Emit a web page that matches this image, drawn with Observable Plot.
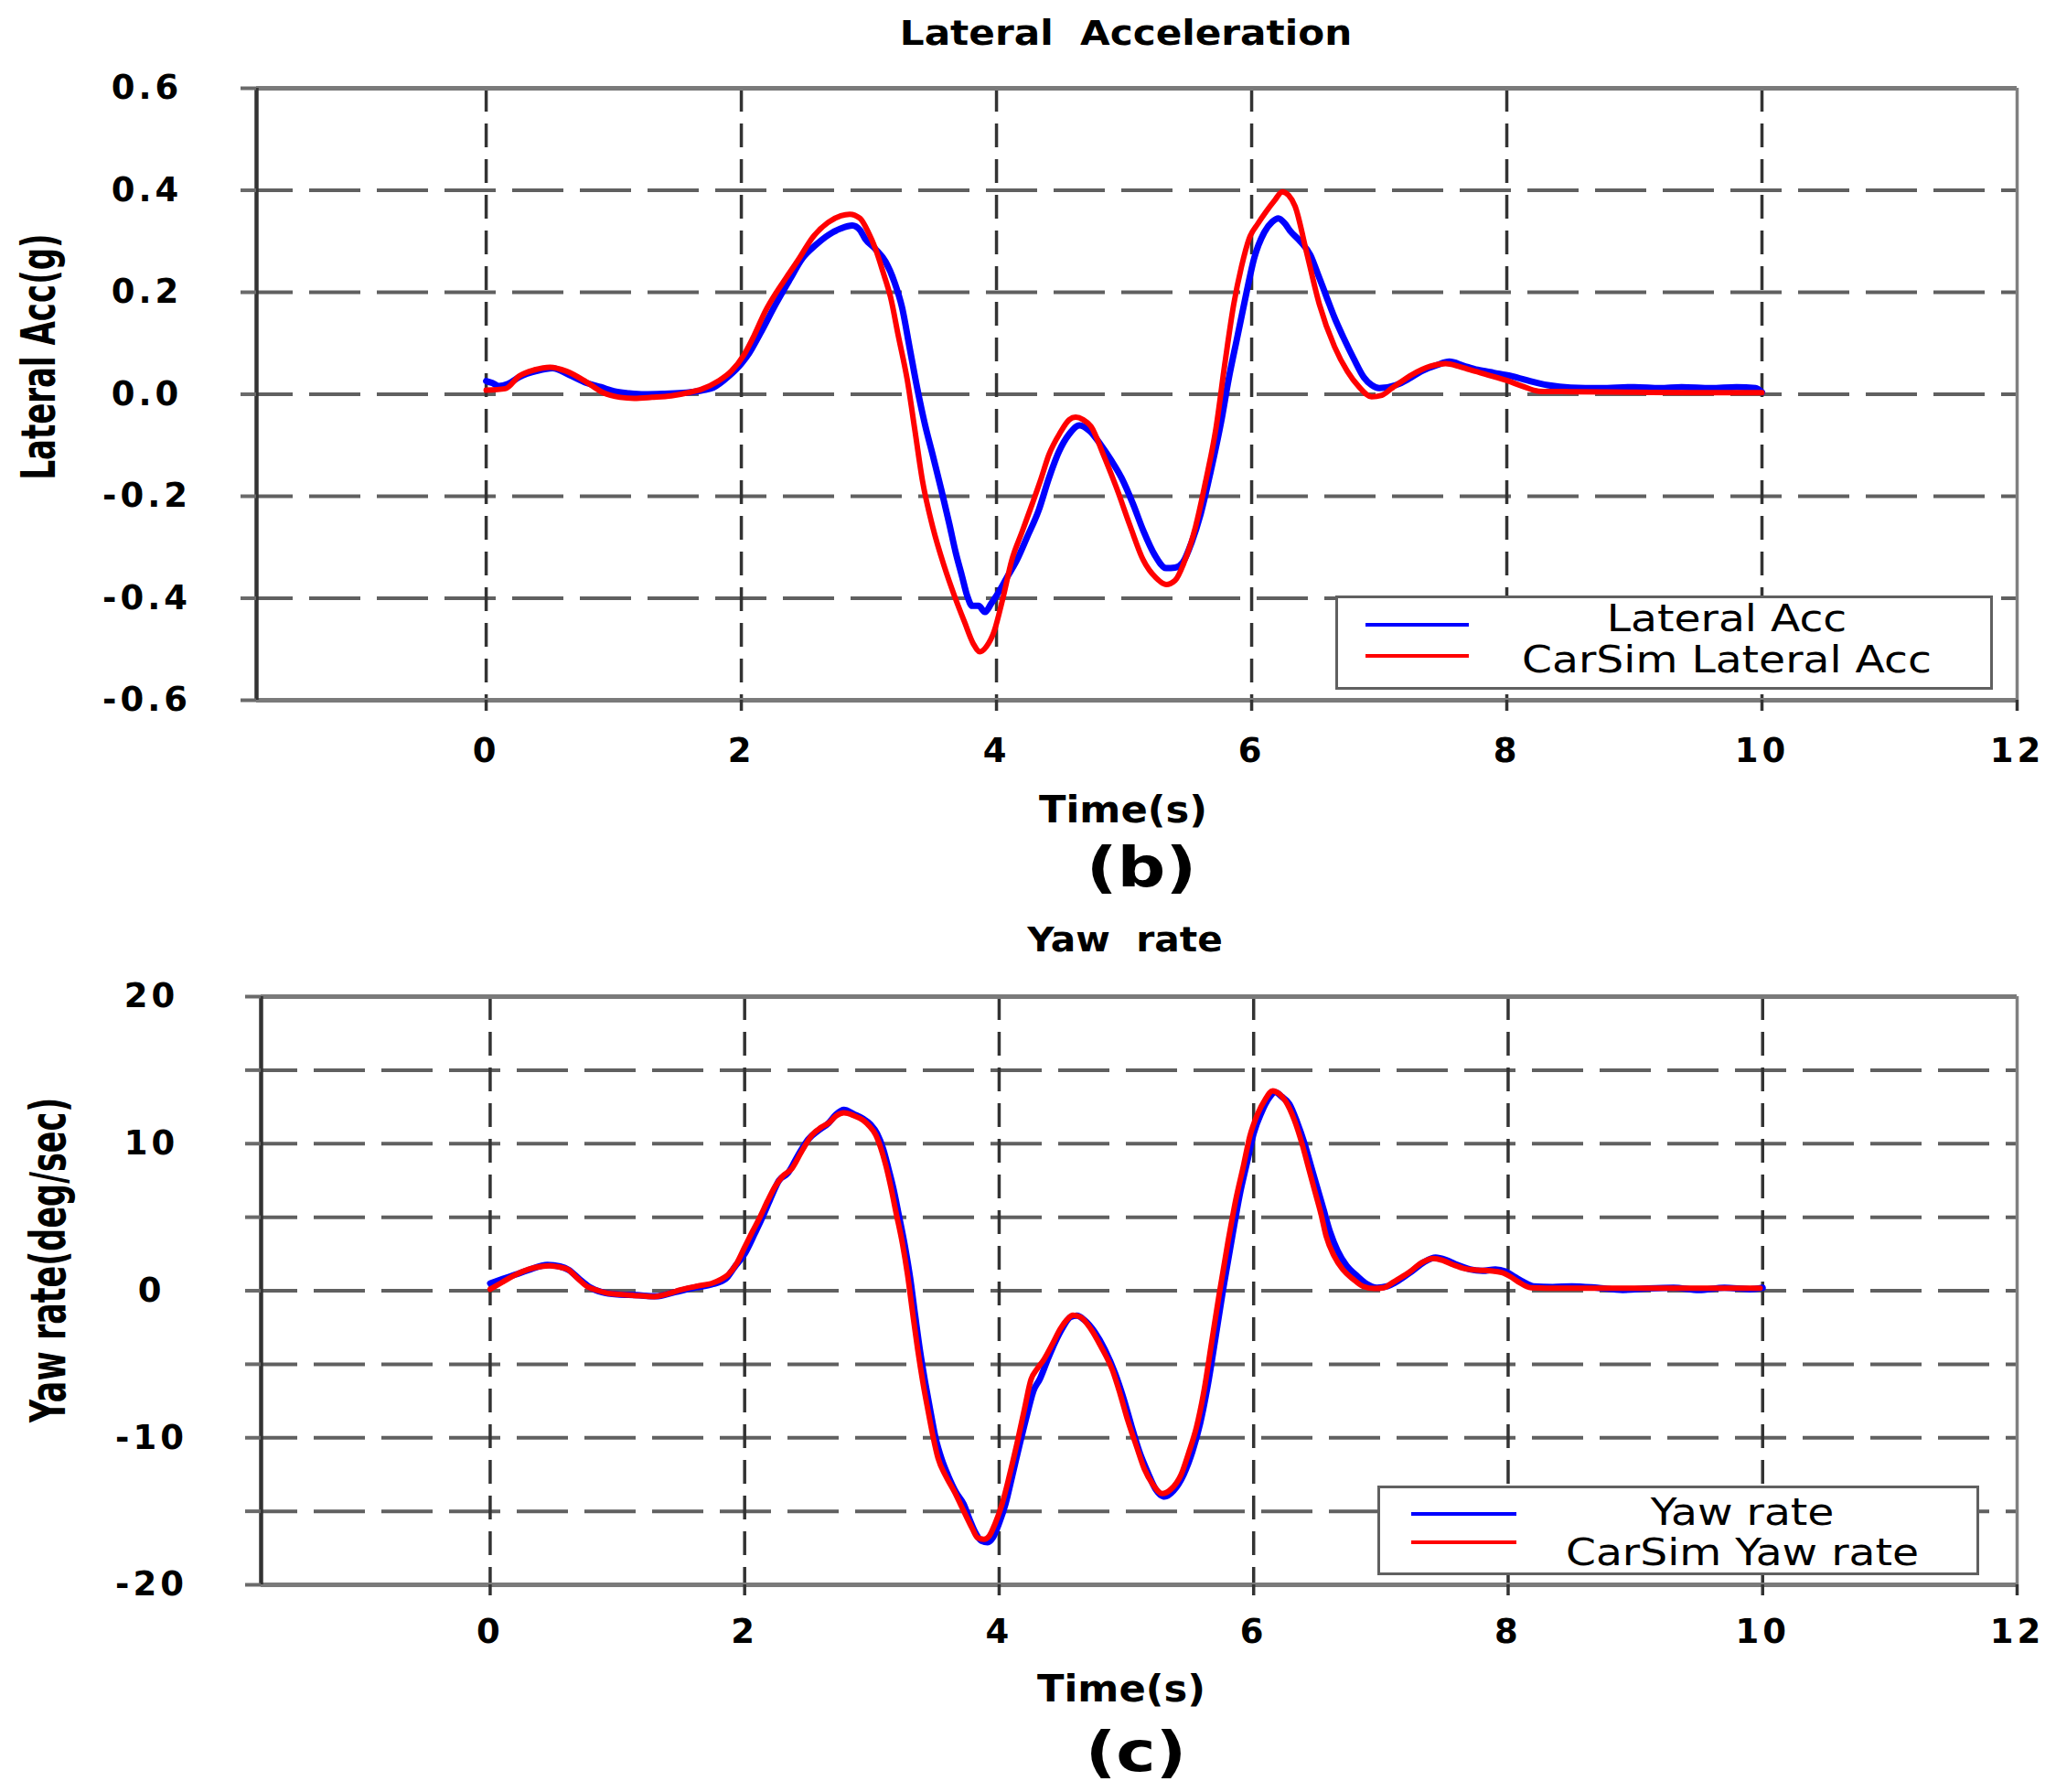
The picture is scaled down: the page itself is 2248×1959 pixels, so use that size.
<!DOCTYPE html>
<html>
<head>
<meta charset="utf-8">
<script src="https://cdn.jsdelivr.net/npm/d3@7"></script>
<script src="https://cdn.jsdelivr.net/npm/@observablehq/plot@0.6"></script>
<style>
  html, body { margin: 0; padding: 0; background: #fff; }
  #page { position: relative; width: 2248px; height: 1959px; overflow: hidden; font-family: "DejaVu Sans", sans-serif; }
  .panel { position: absolute; left: 0; }
  .panel svg text { letter-spacing: 4px; }
  .txt { position: absolute; white-space: pre; text-align: center; color: #000; }
  .legend { position: absolute; background: #fff; border: 3px solid #606060; box-sizing: border-box; z-index: 5; }
  .sample { position: absolute; height: 4px; z-index: 6; }
</style>
</head>
<body>
<div id="page"></div>
<script>
// ---------- shared axes ----------
const xDomain = [-1.8, 12];
const xTicks = [0, 2, 4, 6, 8, 10, 12];
const xGrid = [0, 2, 4, 6, 8, 10];

// ---------- (b) Lateral acceleration ----------
const latYDomain = [-0.6, 0.6];
const latYTicks = [-0.6, -0.4, -0.2, 0, 0.2, 0.4, 0.6];
const latYTickLabels = ["-0.6", "-0.4", "-0.2", "0.0", "0.2", "0.4", "0.6"];
const latYGrid = [-0.4, -0.2, 0, 0.2, 0.4];

// measured "Lateral Acc" (blue)
const latAccT = [0,0.05,0.1,0.17,0.26,0.4,0.52,0.65,0.79,0.9,1.0,1.12,1.24,1.4,1.57,1.7,1.78,1.9,2.0,2.06,2.15,2.27,2.38,2.48,2.58,2.68,2.78,2.87,2.93,2.97,3.05,3.13,3.2,3.26,3.32,3.38,3.44,3.5,3.57,3.63,3.68,3.73,3.77,3.81,3.86,3.91,3.96,4.0,4.08,4.16,4.24,4.33,4.41,4.49,4.57,4.65,4.73,4.82,4.9,4.98,5.07,5.15,5.24,5.33,5.4,5.46,5.53,5.6,5.68,5.76,5.82,5.89,5.96,6.02,6.1,6.16,6.21,6.26,6.3,6.38,6.46,6.52,6.59,6.65,6.72,6.8,6.88,6.94,7.0,7.13,7.23,7.33,7.45,7.55,7.66,7.77,7.9,8.03,8.15,8.32,8.5,8.73,9.0,9.2,9.37,9.6,9.8,9.95,10.0];
const latAccV = [0.026,0.022,0.016,0.02,0.034,0.046,0.051,0.038,0.022,0.014,0.006,0.002,0.0,0.001,0.003,0.008,0.013,0.035,0.06,0.08,0.12,0.177,0.225,0.267,0.292,0.312,0.325,0.331,0.322,0.305,0.285,0.26,0.22,0.17,0.09,0.01,-0.06,-0.119,-0.19,-0.254,-0.31,-0.357,-0.395,-0.415,-0.415,-0.427,-0.41,-0.395,-0.36,-0.325,-0.28,-0.228,-0.165,-0.112,-0.078,-0.061,-0.072,-0.1,-0.13,-0.164,-0.215,-0.267,-0.315,-0.341,-0.34,-0.33,-0.29,-0.235,-0.15,-0.055,0.03,0.115,0.2,0.267,0.318,0.338,0.345,0.335,0.321,0.3,0.273,0.235,0.189,0.15,0.111,0.07,0.033,0.018,0.012,0.018,0.03,0.045,0.057,0.064,0.056,0.048,0.042,0.036,0.028,0.018,0.013,0.012,0.014,0.012,0.014,0.012,0.014,0.012,0.004];

// "CarSim Lateral Acc" (red)
const carsimLatT = [0,0.15,0.26,0.38,0.5,0.63,0.78,0.91,1.05,1.16,1.3,1.45,1.6,1.69,1.82,1.92,2.02,2.1,2.19,2.27,2.35,2.45,2.56,2.68,2.78,2.85,2.93,3.0,3.05,3.11,3.17,3.23,3.3,3.36,3.42,3.5,3.59,3.67,3.75,3.82,3.87,3.92,3.98,4.05,4.12,4.2,4.28,4.35,4.41,4.5,4.57,4.62,4.68,4.74,4.84,4.94,5.05,5.15,5.25,5.33,5.4,5.47,5.56,5.64,5.72,5.79,5.86,5.92,5.98,6.05,6.11,6.18,6.24,6.29,6.34,6.43,6.53,6.65,6.75,6.84,6.94,7.02,7.1,7.26,7.4,7.52,7.62,7.71,7.85,8.0,8.12,8.25,8.5,9.0,9.5,10.0];
const carsimLatV = [0.008,0.011,0.036,0.048,0.053,0.045,0.025,0.004,-0.006,-0.008,-0.006,-0.003,0.004,0.01,0.026,0.045,0.077,0.115,0.164,0.198,0.228,0.265,0.308,0.337,0.35,0.353,0.345,0.315,0.286,0.24,0.19,0.115,0.029,-0.07,-0.17,-0.26,-0.337,-0.395,-0.447,-0.49,-0.505,-0.495,-0.466,-0.4,-0.325,-0.27,-0.215,-0.165,-0.119,-0.075,-0.05,-0.045,-0.05,-0.063,-0.12,-0.183,-0.26,-0.325,-0.36,-0.373,-0.365,-0.33,-0.26,-0.17,-0.067,0.06,0.177,0.25,0.305,0.335,0.357,0.38,0.397,0.39,0.369,0.279,0.177,0.093,0.045,0.015,-0.005,-0.002,0.012,0.039,0.055,0.06,0.055,0.048,0.038,0.027,0.016,0.006,0.005,0.004,0.003,0.003];

// ---------- (c) Yaw rate ----------
const yawYDomain = [-20, 20];
const yawYTicks = [-20, -10, 0, 10, 20];
const yawYTickLabels = ["-20", "-10", "0", "10", "20"];
const yawYMinor = [-20, -15, -10, -5, 0, 5, 10, 15, 20];
const yawYGrid = [-15, -10, -5, 0, 5, 10, 15];

// measured "Yaw rate" (blue)
const yawT = [0,0.1,0.2,0.3,0.45,0.55,0.62,0.7,0.78,0.88,1.0,1.15,1.3,1.45,1.6,1.75,1.85,1.92,2.0,2.08,2.14,2.2,2.27,2.34,2.42,2.5,2.58,2.66,2.72,2.78,2.86,2.93,2.99,3.04,3.09,3.13,3.17,3.21,3.26,3.3,3.34,3.38,3.42,3.46,3.5,3.55,3.6,3.66,3.72,3.77,3.81,3.86,3.91,3.95,4.0,4.05,4.1,4.16,4.22,4.27,4.32,4.38,4.44,4.5,4.56,4.61,4.67,4.75,4.83,4.91,4.98,5.04,5.1,5.17,5.23,5.3,5.37,5.45,5.52,5.58,5.64,5.7,5.76,5.83,5.89,5.95,6.0,6.06,6.12,6.17,6.22,6.28,6.34,6.4,6.45,6.5,6.55,6.6,6.66,6.73,6.8,6.88,6.97,7.05,7.14,7.24,7.34,7.43,7.51,7.6,7.7,7.8,7.9,7.98,8.05,8.12,8.2,8.35,8.5,8.7,8.9,9.1,9.3,9.5,9.7,9.9,10.0];
const yawV = [0.5,0.8,1.1,1.4,1.75,1.65,1.4,0.8,0.25,-0.1,-0.25,-0.3,-0.38,-0.1,0.2,0.45,0.8,1.6,2.5,3.9,5.0,6.2,7.5,8.0,9.2,10.3,10.9,11.4,12.0,12.3,12.0,11.7,11.3,10.7,9.6,8.3,6.9,5.2,3.0,0.9,-1.7,-4.2,-6.3,-8.2,-10.0,-11.5,-12.6,-13.7,-14.5,-15.6,-16.4,-17.0,-17.1,-16.8,-15.8,-14.5,-12.7,-10.5,-8.4,-6.8,-6.0,-4.7,-3.5,-2.5,-1.8,-1.7,-2.0,-2.8,-4.0,-5.6,-7.4,-9.2,-10.9,-12.4,-13.5,-14.0,-13.6,-12.5,-10.9,-9.0,-6.4,-3.2,0.1,3.6,6.5,8.8,10.7,12.1,13.1,13.5,13.2,12.7,11.5,10.0,8.5,7.0,5.5,4.0,2.7,1.7,1.1,0.5,0.2,0.3,0.7,1.3,1.95,2.25,2.1,1.75,1.45,1.35,1.45,1.3,0.95,0.6,0.3,0.25,0.3,0.2,0.05,0.15,0.2,0.05,0.2,0.1,0.2];

// "CarSim Yaw rate" (red)
const carsimYawT = [0,0.1,0.18,0.3,0.4,0.47,0.55,0.61,0.68,0.76,0.85,0.92,1.02,1.13,1.29,1.4,1.5,1.62,1.75,1.82,1.87,1.94,2.0,2.06,2.12,2.18,2.24,2.3,2.37,2.45,2.53,2.6,2.66,2.72,2.78,2.86,2.93,2.98,3.03,3.07,3.11,3.15,3.19,3.24,3.28,3.32,3.36,3.4,3.44,3.48,3.52,3.58,3.65,3.7,3.75,3.79,3.83,3.88,3.92,3.97,4.02,4.08,4.14,4.2,4.25,4.3,4.35,4.42,4.48,4.53,4.58,4.64,4.72,4.8,4.89,4.95,5.01,5.08,5.14,5.21,5.28,5.35,5.43,5.49,5.55,5.61,5.67,5.73,5.8,5.86,5.92,5.97,6.03,6.09,6.15,6.2,6.25,6.32,6.38,6.43,6.48,6.53,6.57,6.63,6.7,6.78,6.86,6.95,7.02,7.1,7.22,7.32,7.41,7.49,7.57,7.66,7.76,7.86,7.95,8.02,8.08,8.18,8.3,8.73,9.5,9.98];
const carsimYawV = [0.1,0.6,1.0,1.45,1.65,1.7,1.6,1.45,0.9,0.3,0.0,-0.16,-0.25,-0.32,-0.4,-0.2,0.07,0.3,0.53,0.8,1.1,1.9,2.96,4.0,5.0,6.1,7.1,7.8,8.3,9.5,10.6,11.1,11.4,11.9,12.1,11.9,11.6,11.2,10.6,9.7,8.5,7.0,5.3,3.2,1.1,-1.5,-4.0,-6.2,-8.1,-9.9,-11.4,-12.6,-13.7,-14.6,-15.5,-16.2,-16.8,-16.9,-16.7,-15.8,-14.6,-12.6,-10.4,-8.0,-6.05,-5.3,-4.7,-3.6,-2.6,-2.0,-1.66,-1.8,-2.6,-3.8,-5.4,-7.0,-8.8,-10.6,-12.1,-13.2,-13.8,-13.5,-12.5,-11.0,-9.3,-6.8,-3.5,-0.2,3.4,6.2,8.5,10.5,12.0,13.0,13.6,13.4,12.9,11.6,10.0,8.4,6.8,5.2,3.7,2.4,1.45,0.8,0.3,0.15,0.2,0.6,1.24,1.9,2.2,2.05,1.76,1.5,1.4,1.35,1.24,0.95,0.6,0.2,0.17,0.17,0.17,0.17];

// ---------- text ----------
const titles = ["Lateral  Acceleration", "Yaw  rate"];
const yLabels = ["Lateral Acc(g)", "Yaw rate(deg/sec)"];
const xLabel = "Time(s)";
const panelTags = ["(b)", "(c)"];
const legendNames = [["Lateral Acc", "CarSim Lateral Acc"], ["Yaw rate", "CarSim Yaw rate"]];
const seriesColors = ["#0000ff", "#ff0000"];

const zip = (T, V) => T.map((t, i) => ({t, v: V[i]}));

const page = document.getElementById("page");

function makePanel({top, height, margins, yDomain, yGrid, yMinor, yTicks, yTickLabels, meas, sim, tickPad}) {
  const chart = Plot.plot({
    width: 2248,
    height,
    marginTop: margins[0], marginRight: margins[1], marginBottom: margins[2], marginLeft: margins[3],
    style: {fontFamily: "DejaVu Sans", background: "transparent", overflow: "visible", color: "#000"},
    x: {domain: xDomain, label: null},
    y: {domain: yDomain, label: null},
    marks: [
      Plot.gridY(yGrid, {stroke: "#606060", strokeOpacity: 1, strokeWidth: 4, strokeDasharray: "56,18", strokeDashoffset: 16}),
      Plot.gridX(xGrid, {stroke: "#333", strokeOpacity: 1, strokeWidth: 3.5, strokeDasharray: "26,13"}),
      Plot.ruleY([yDomain[0], yDomain[1]], {stroke: "#7a7a7a", strokeWidth: 5}),
      Plot.ruleX([xDomain[1]], {stroke: "#808080", strokeWidth: 3.5}),
      Plot.ruleX([xDomain[0]], {stroke: "#333", strokeWidth: 4.5}),
      Plot.axisY({ticks: yMinor, tickSize: 17, tickFormat: () => "", stroke: "#6a6a6a", strokeWidth: 4}),
      Plot.text(yTicks, {y: d => d, text: (d, i) => yTickLabels[i], frameAnchor: "left", dx: -120, textAnchor: "middle", fontSize: 37, fontWeight: "bold", fill: "#000"}),
      Plot.axisX({ticks: xTicks, tickSize: 12, tickPadding: tickPad, tickFormat: d => String(d), fontSize: 37, fontWeight: "bold", stroke: "#333", strokeWidth: 3.5, fill: "#000"}),
      Plot.line(meas, {x: "t", y: "v", stroke: seriesColors[0], strokeWidth: 7, curve: "monotone-x"}),
      Plot.line(sim, {x: "t", y: "v", stroke: seriesColors[1], strokeWidth: 6, curve: "monotone-x"})
    ]
  });
  const wrap = document.createElement("div");
  wrap.className = "panel";
  wrap.style.top = top + "px";
  wrap.appendChild(chart);
  page.appendChild(wrap);
}

makePanel({top: 0, height: 980, margins: [96, 43, 215, 280], yDomain: latYDomain, yGrid: latYGrid, yMinor: latYTicks,
  yTicks: latYTicks, yTickLabels: latYTickLabels, meas: zip(latAccT, latAccV), sim: zip(carsimLatT, carsimLatV), tickPad: 29});
makePanel({top: 980, height: 979, margins: [109, 43, 227, 285], yDomain: yawYDomain, yGrid: yawYGrid, yMinor: yawYMinor,
  yTicks: yawYTicks, yTickLabels: yawYTickLabels, meas: zip(yawT, yawV), sim: zip(carsimYawT, carsimYawV), tickPad: 25});

// horizontal text: centre x, baseline y
function hText(str, cx, baseline, size, weight, k) {
  const d = document.createElement("div");
  d.className = "txt";
  d.textContent = str;
  Object.assign(d.style, {
    left: (cx - 600) + "px", width: "1200px", top: (baseline - 0.846 * size) + "px",
    height: size + "px", lineHeight: size + "px", fontSize: size + "px", fontWeight: weight,
    transform: `scaleX(${k})`, zIndex: 7
  });
  page.appendChild(d);
}
// rotated text: baseline x, centre y
function vText(str, baseX, cy, size, k) {
  const d = document.createElement("div");
  d.className = "txt";
  d.textContent = str;
  Object.assign(d.style, {
    left: (baseX - 0.346 * size * k - 400) + "px", width: "800px", top: (cy - size / 2) + "px",
    height: size + "px", lineHeight: size + "px", fontSize: size + "px", fontWeight: "bold",
    transform: `rotate(-90deg) scaleY(${k})`
  });
  page.appendChild(d);
}
function legend(box, lines, names, texts) {
  const b = document.createElement("div");
  b.className = "legend";
  Object.assign(b.style, {left: box[0] + "px", top: box[1] + "px", width: (box[2] - box[0]) + "px", height: (box[3] - box[1]) + "px"});
  page.appendChild(b);
  lines.forEach((ly, i) => {
    const s = document.createElement("div");
    s.className = "sample";
    Object.assign(s.style, {left: lines.x0 + "px", width: (lines.x1 - lines.x0) + "px", top: (ly - 2) + "px", background: seriesColors[i]});
    page.appendChild(s);
  });
  names.forEach((n, i) => hText(n, texts.cx, texts.base[i], 40, "normal", 1.18));
}

// panel (b)
hText(titles[0], 1231, 49, 37, "bold", 1.14);
vText(yLabels[0], 60, 390, 34, 1.5);
hText(xLabel, 1228, 899, 40, "bold", 1.08);
hText(panelTags[0], 1248, 969, 60, "bold", 1.23);
const l1 = [683, 717]; l1.x0 = 1493; l1.x1 = 1606;
legend([1460, 651, 2179, 754], l1, legendNames[0], {cx: 1888, base: [690, 735]});

// panel (c)
hText(titles[1], 1230, 1040, 37, "bold", 1.1);
vText(yLabels[1], 72, 1377, 35, 1.5);
hText(xLabel, 1226, 1860, 40, "bold", 1.08);
hText(panelTags[1], 1242, 1936, 60, "bold", 1.22);
const l2 = [1655, 1686]; l2.x0 = 1543; l2.x1 = 1658;
legend([1506, 1624, 2164, 1722], l2, legendNames[1], {cx: 1905, base: [1667, 1711]});
</script>
</body>
</html>
